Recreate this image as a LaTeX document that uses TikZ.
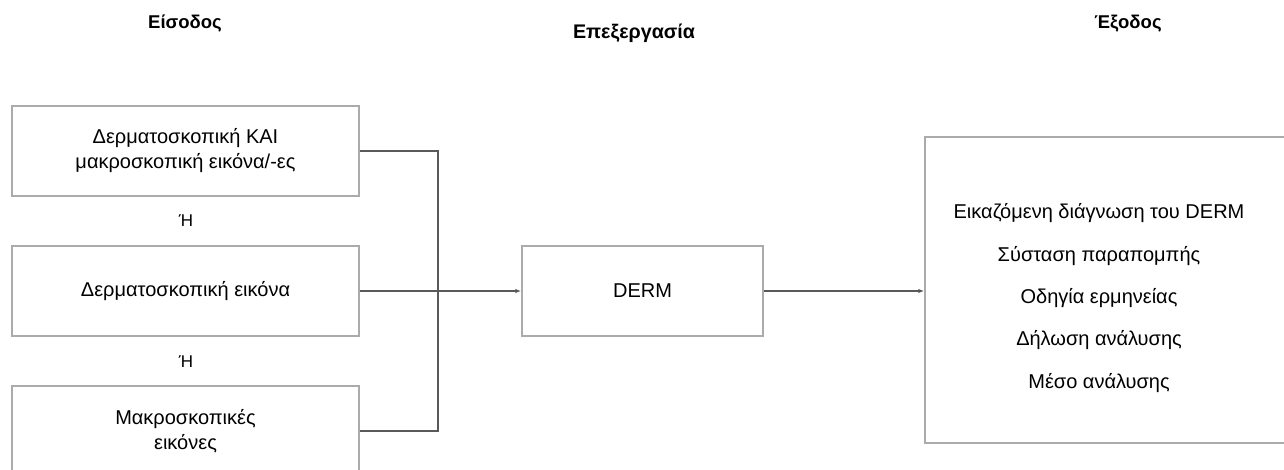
\documentclass[tikz,border=0pt]{standalone}
\usepackage{fontspec}
\setmainfont{Liberation Sans}
\usetikzlibrary{arrows.meta}
\definecolor{boxgray}{HTML}{ABABAB}
\definecolor{linegray}{HTML}{595959}
\tikzset{
  inbox/.style={draw=boxgray, line width=1.4pt, minimum width=347pt, minimum height=90pt, inner sep=0pt, align=center, font=\fontsize{20}{25}\selectfont},
  title/.style={font=\fontsize{18.5}{22}\selectfont\bfseries},
  ortext/.style={font=\fontsize{17}{20}\selectfont},
  conn/.style={draw=linegray, line width=1.4pt},
  arr/.style={conn, -{Latex[length=6pt,width=4.5pt]}},
  outline/.style={font=\fontsize{20}{42.3}\selectfont, align=center}
}
\begin{document}
\begin{tikzpicture}[x=1pt,y=-1pt]
\useasboundingbox (0,0) rectangle (1284,470);
\node[title] (tin) at (185,24) {Είσοδος};
\node[title, font=\fontsize{19.7}{22}\selectfont\bfseries] (tproc) at (634,33) {Επεξεργασία};
\node[title] (tout) at (1128,24) {Έξοδος};

\node[inbox] (b1) at (185.5,151) {Δερματοσκοπική ΚΑΙ\\μακροσκοπική εικόνα/-ες};
\node[ortext] (or1) at (186,221) {Ή};
\node[inbox] (b2) at (185.5,291) {Δερματοσκοπική εικόνα};
\node[ortext] (or2) at (186,362) {Ή};
\node[inbox] (b3) at (185.5,431) {Μακροσκοπικές\\εικόνες};

\node[inbox, minimum width=241pt] (derm) at (642.5,291) {DERM};

\node[draw=boxgray, line width=1.4pt, minimum width=365pt, minimum height=306pt, inner sep=0pt] (outbox) at (1107.5,290) {};
\node[outline] (outtext) at (1099,298) {Εικαζόμενη διάγνωση του DERM\\Σύσταση παραπομπής\\Οδηγία ερμηνείας\\Δήλωση ανάλυσης\\Μέσο ανάλυσης};

\coordinate (j) at (438,291);
\draw[conn] (b1.east) -| (j);
\draw[conn] (b3.east) -| (j);
\draw[arr] (b2.east) -- (derm.west);
\draw[arr] (derm.east) -- (derm.east -| outbox.west);
\end{tikzpicture}
\end{document}
